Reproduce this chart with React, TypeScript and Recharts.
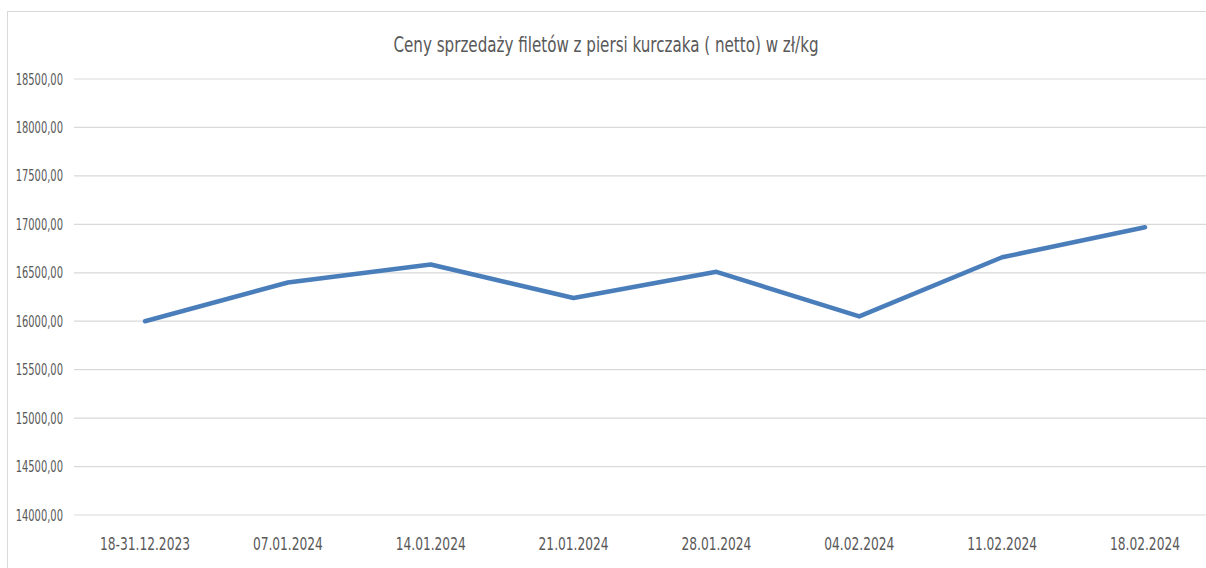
import { CartesianGrid, Line, LineChart, XAxis, YAxis } from "recharts";

const weeks = [
  "18-31.12.2023",
  "07.01.2024",
  "14.01.2024",
  "21.01.2024",
  "28.01.2024",
  "04.02.2024",
  "11.02.2024",
  "18.02.2024",
];
const prices = [16000, 16400, 16585, 16240, 16510, 16050, 16660, 16970];
const yTicks = [14000, 14500, 15000, 15500, 16000, 16500, 17000, 17500, 18000, 18500];

const title = "Ceny sprzedaży filetów z piersi kurczaka ( netto) w zł/kg";

const data = weeks.map((week, i) => ({ week, price: prices[i] }));

const font = '"DejaVu Sans Condensed", "DejaVu Sans", sans-serif';
const textColor = "#595959";

// the original labels are a narrow font, so squeeze them horizontally
function XTick({ x, y, payload }: any) {
  return (
    <text
      transform={`translate(${x},${y}) scale(0.8,1)`}
      textAnchor="middle"
      dy="0.71em"
      fill={textColor}
      fontSize={17}
      fontFamily={font}
    >
      {payload.value}
    </text>
  );
}

function YTick({ x, y, payload }: any) {
  return (
    <text
      transform={`translate(${x},${y}) scale(0.69,1)`}
      textAnchor="end"
      dy="0.35em"
      fill={textColor}
      fontSize={16}
      fontFamily={font}
    >
      {`${payload.value},00`}
    </text>
  );
}

export default function App() {
  return (
    <div
      style={{
        position: "absolute",
        left: 0,
        top: 0,
        width: 1206,
        height: 568,
        overflow: "hidden",
        background: "#fff",
        fontFamily: font,
      }}
    >
      <div
        style={{
          position: "absolute",
          left: 7,
          top: 11,
          width: 1300,
          height: 600,
          border: "1px solid #d9d9d9",
        }}
      />
      <div
        style={{
          position: "absolute",
          left: 0,
          width: 1212,
          top: 33,
          textAlign: "center",
          fontSize: 20.5,
          color: textColor,
          transform: "scaleX(0.82)",
        }}
      >
        {title}
      </div>
      <div style={{ position: "absolute", left: 0, top: 0 }}>
        <LineChart
          width={1220}
          height={568}
          data={data}
          margin={{ top: 79, right: 4, bottom: 0, left: 0 }}
        >
          <CartesianGrid vertical={false} stroke="#d9d9d9" strokeWidth={1.2} />
          <XAxis
            dataKey="week"
            axisLine={false}
            tickLine={false}
            padding={{ left: 71, right: 71 }}
            tickMargin={17}
            height={53}
            interval={0}
            tick={<XTick />}
          />
          <YAxis
            domain={[14000, 18500]}
            ticks={yTicks}
            axisLine={false}
            tickLine={false}
            width={74}
            tickMargin={5}
            interval={0}
            tick={<YTick />}
          />
          <Line
            type="linear"
            dataKey="price"
            stroke="#4a7ebb"
            strokeWidth={4.5}
            strokeLinecap="round"
            strokeLinejoin="round"
            dot={false}
            activeDot={false}
            isAnimationActive={false}
          />
        </LineChart>
      </div>
    </div>
  );
}
